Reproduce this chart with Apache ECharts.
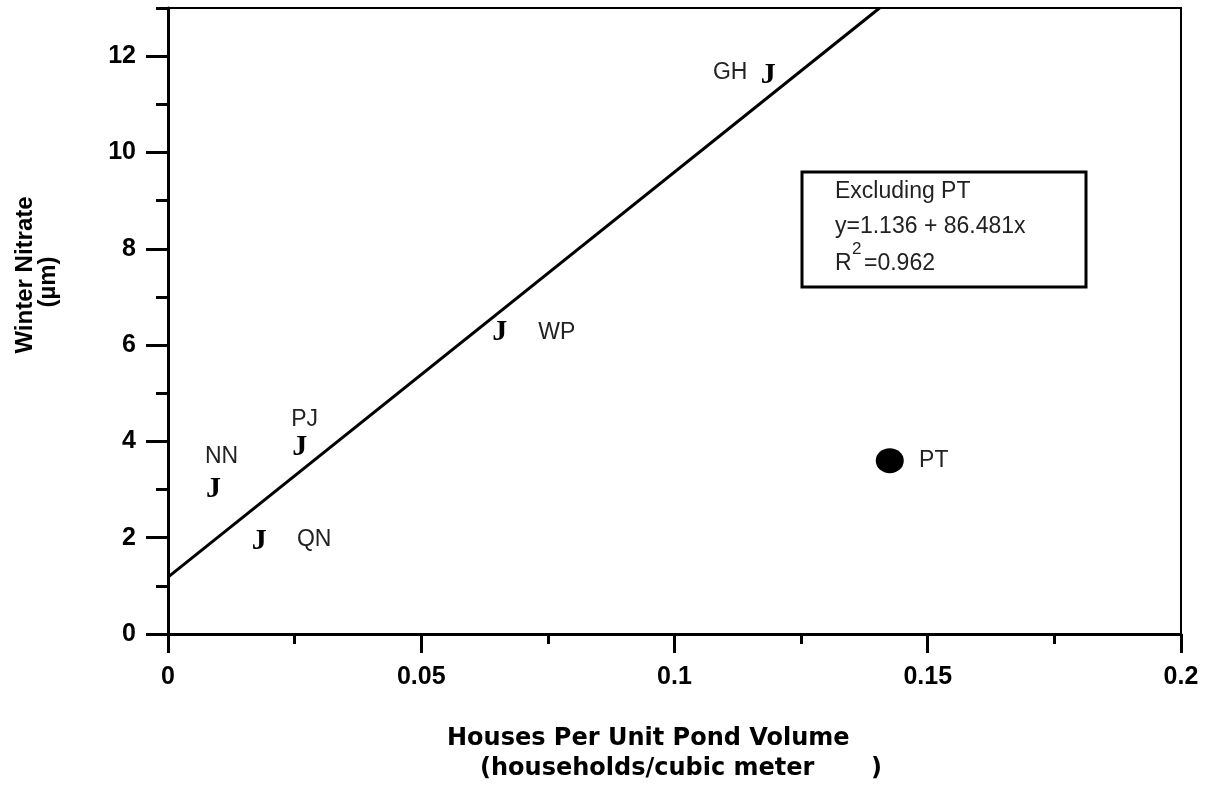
<!DOCTYPE html>
<html>
<head>
<meta charset="utf-8">
<script src="https://cdn.jsdelivr.net/npm/echarts@6/dist/echarts.min.js"></script>
<style>
html,body{margin:0;padding:0;background:#fff;}
#chart{width:1210px;height:786px;}
</style>
</head>
<body>
<div id="chart"></div>
<script>
// ---- data ----
const siteNames = ['NN', 'QN', 'PJ', 'WP', 'GH'];
const housesPerVolume = [0.009, 0.018, 0.026, 0.0655, 0.1185];
const winterNitrate = [3.0, 1.93, 3.88, 6.27, 11.6];
const outlierName = ['PT'];
const outlierX = [0.1425];
const outlierY = [3.6];
const fitX = [0, 0.1405];
const fitY = [1.18, 13];
const xTicks = [0, 0.05, 0.1, 0.15, 0.2];
const yMajorTicks = [0, 2, 4, 6, 8, 10, 12];
const yMinorTicks = [1, 3, 5, 7, 9, 11, 13];
const legendLines = ['Excluding PT', 'y=1.136 + 86.481x', '=0.962'];

// label placement (style only)
const nameOffsets = [[8, -33], [55, -1], [5, -28], [57, 1], [-38, -3]];
const outlierOffset = [44, 0];

const chart = echarts.init(document.getElementById('chart'), null, {renderer: 'canvas'});

const pts = siteNames.map((n, i) => ({name: n, value: [housesPerVolume[i], winterNitrate[i]]}));
const namePts = siteNames.map((n, i) => ({
  name: n, value: [housesPerVolume[i], winterNitrate[i]],
  label: {offset: nameOffsets[i]}
}));
const outPts = outlierName.map((n, i) => ({name: n, value: [outlierX[i], outlierY[i]]}));
const fitData = fitX.map((x, i) => [x, fitY[i]]);

const tickFont = {fontFamily: 'Liberation Sans', fontWeight: 'bold', fontSize: 25, color: '#000'};

chart.setOption({
  animation: false,
  backgroundColor: '#fff',
  grid: {left: 168, right: 29, top: 8, bottom: 152, show: true, borderColor: '#000', borderWidth: 2, backgroundColor: 'transparent'},
  xAxis: {
    type: 'value', min: xTicks[0], max: xTicks[xTicks.length - 1], interval: 0.05,
    axisLine: {show: true, onZero: false, lineStyle: {color: '#000', width: 3}},
    axisTick: {show: true, inside: false, length: 19, lineStyle: {color: '#000', width: 3}},
    minorTick: {show: true, splitNumber: 2, length: 10, lineStyle: {color: '#000', width: 3}},
    splitLine: {show: false},
    axisLabel: Object.assign({margin: 31, formatter: v => String(+v.toFixed(3))}, tickFont)
  },
  yAxis: [{
    type: 'value', min: 0, max: 13,
    axisLine: {show: true, onZero: false, lineStyle: {color: '#000', width: 3}},
    axisTick: {show: true, inside: false, length: 22, customValues: yMajorTicks, lineStyle: {color: '#000', width: 3}},
    splitLine: {show: false},
    axisLabel: Object.assign({margin: 32, customValues: yMajorTicks}, tickFont)
  }, {
    type: 'value', min: 0, max: 13, position: 'left',
    axisLine: {show: false},
    axisTick: {show: true, inside: false, length: 12, customValues: yMinorTicks, lineStyle: {color: '#000', width: 3}},
    splitLine: {show: false},
    axisLabel: {show: false}
  }],
  series: [
    {
      type: 'line', data: fitData, symbol: 'none', silent: true,
      lineStyle: {color: '#000', width: 3}, z: 3
    },
    {
      type: 'scatter', data: pts, symbolSize: 1, itemStyle: {color: 'rgba(0,0,0,0)', opacity: 1},
      label: {show: true, position: 'inside', formatter: 'J', fontFamily: 'Liberation Serif', fontWeight: 'bold', fontSize: 30, color: '#000'},
      z: 4
    },
    {
      type: 'scatter', data: namePts, symbolSize: 1, itemStyle: {color: 'rgba(0,0,0,0)', opacity: 1},
      label: {show: true, position: 'inside', formatter: '{b}', fontFamily: 'Liberation Sans', fontSize: 23, color: '#222'},
      z: 4
    },
    {
      type: 'scatter', data: outPts, symbol: 'circle', symbolSize: [28, 25], itemStyle: {color: '#000', opacity: 1},
      label: {show: true, position: 'inside', offset: outlierOffset, formatter: '{b}', fontFamily: 'Liberation Sans', fontSize: 23, color: '#222'},
      z: 4
    }
  ],
  graphic: [
    {type: 'text', left: 447, top: 727, style: {text: 'Houses Per Unit Pond Volume', font: 'bold 24px "DejaVu Sans"', fill: '#000'}},
    {type: 'text', left: 480, top: 757, style: {text: '(households/cubic meter', font: 'bold 24px "DejaVu Sans"', fill: '#000'}},
    {type: 'text', left: 871, top: 757, style: {text: ')', font: 'bold 24px "DejaVu Sans"', fill: '#000'}},
    {type: 'text', x: 25, y: 275, rotation: Math.PI / 2, style: {text: 'Winter Nitrate', font: 'bold 24px "Liberation Sans"', fill: '#000', align: 'center', verticalAlign: 'middle'}},
    {type: 'text', x: 48, y: 282, rotation: Math.PI / 2, style: {text: '(µm)', font: 'bold 24px "Liberation Sans"', fill: '#000', align: 'center', verticalAlign: 'middle'}},
    {type: 'rect', shape: {x: 802, y: 172, width: 284, height: 115}, style: {fill: '#fff', stroke: '#000', lineWidth: 3}, z: 10},
    {type: 'text', x: 835, y: 192, z: 11, style: {text: legendLines[0], font: '23px "Liberation Sans"', fill: '#222', verticalAlign: 'middle'}},
    {type: 'text', x: 835, y: 227, z: 11, style: {text: legendLines[1], font: '23px "Liberation Sans"', fill: '#222', verticalAlign: 'middle'}},
    {type: 'text', x: 835, y: 264, z: 11, style: {text: 'R', font: '23px "Liberation Sans"', fill: '#222', verticalAlign: 'middle'}},
    {type: 'text', x: 852, y: 249, z: 11, style: {text: '2', font: '17px "Liberation Sans"', fill: '#222', verticalAlign: 'middle'}},
    {type: 'text', x: 864, y: 264, z: 11, style: {text: legendLines[2], font: '23px "Liberation Sans"', fill: '#222', verticalAlign: 'middle'}}
  ]
});
</script>
</body>
</html>
